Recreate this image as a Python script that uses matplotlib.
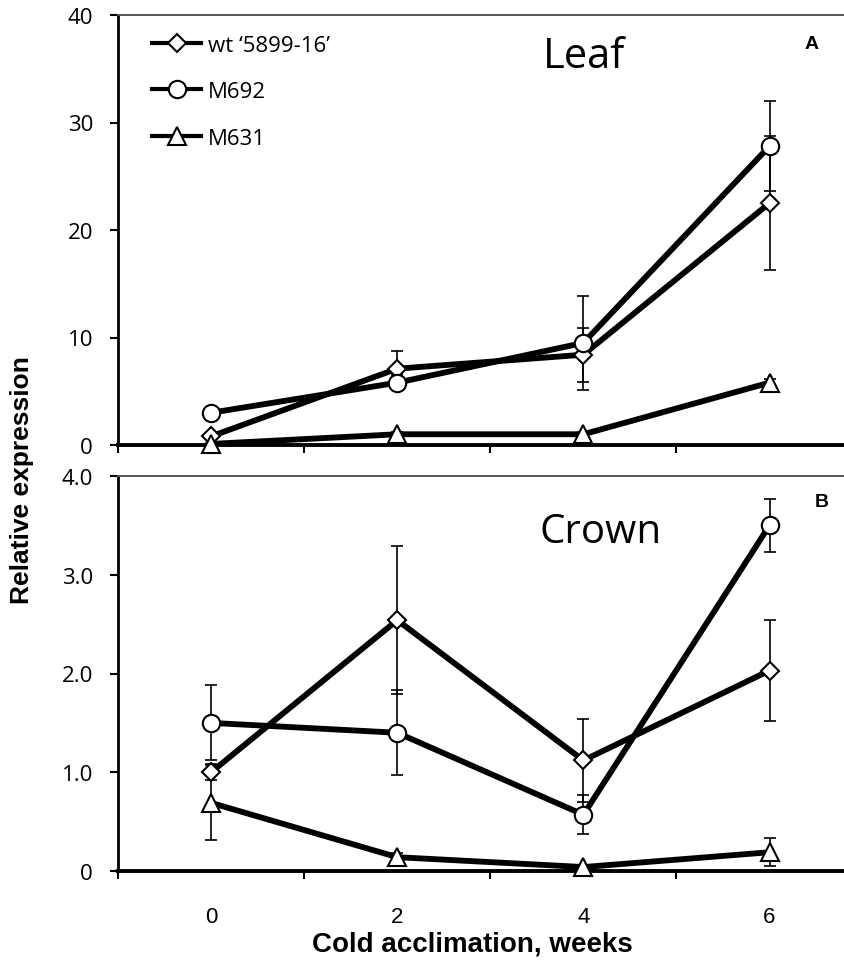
import matplotlib
matplotlib.use("Agg")
import matplotlib.pyplot as plt
from matplotlib import font_manager

# Daten
weeks = ["0", "2", "4", "6"]
series = ["wt \u20185899-16\u2019", "M692", "M631"]
markers = ["D", "o", "^"]
marker_sizes = [9.5, 12.5, 12.5]

leaf_wt = [0.8, 7.1, 8.4, 22.5]
leaf_wt_err = [0.2, 1.6, 2.5, 6.2]
leaf_m692 = [3.0, 5.8, 9.5, 27.8]
leaf_m692_err = [0.2, 0.7, 4.4, 4.2]
leaf_m631 = [0.1, 1.0, 1.0, 5.8]
leaf_m631_err = [0.1, 0.2, 0.2, 0.3]

crown_wt = [1.00, 2.54, 1.12, 2.03]
crown_wt_err = [0.08, 0.75, 0.42, 0.51]
crown_m692 = [1.50, 1.40, 0.57, 3.50]
crown_m692_err = [0.38, 0.43, 0.20, 0.27]
crown_m631 = [0.69, 0.14, 0.04, 0.19]
crown_m631_err = [0.38, 0.04, 0.02, 0.14]

leaf_ticks = [0, 10, 20, 30, 40]
leaf_ticklabels = ["0", "10", "20", "30", "40"]
crown_ticks = [0, 1, 2, 3, 4]
crown_ticklabels = ["0", "1.0", "2.0", "3.0", "4.0"]


def pick_font(names, default="DejaVu Sans"):
    available = {f.name for f in font_manager.fontManager.ttflist}
    for n in names:
        if n in available:
            return n
    return default


SANS = pick_font(["Open Sans", "Noto Sans", "DejaVu Sans"])
ARIAL = pick_font(["Liberation Sans", "DejaVu Sans"])
NARROW = pick_font(["Liberation Sans Narrow", "Liberation Sans"])

W, H = 844, 970
fig = plt.figure(figsize=(W / 100, H / 100), dpi=100)


def px_axes(left, top, right, bottom):
    return fig.add_axes([left / W, 1 - bottom / H, (right - left) / W, (bottom - top) / H])


ax_leaf = px_axes(118, 16, 844, 446)
ax_crown = px_axes(118, 477, 844, 872)


def draw_panel(ax, values, errors, ylim, ticks, ticklabels):
    x = list(range(len(weeks)))
    # Fehlerbalken hinter die Linien
    for y, e in zip(values, errors):
        ax.errorbar(x, y, yerr=e, fmt="none", ecolor="black", elinewidth=1.2,
                    capsize=4.5, capthick=1.2, zorder=2, clip_on=False)
    handles = []
    for y, m, ms, name in zip(values, markers, marker_sizes, series):
        h, = ax.plot(x, y, color="black", lw=4.2, marker=m, ms=ms,
                     mfc="white", mec="black", mew=1.5, zorder=3,
                     clip_on=False, label=name)
        handles.append(h)

    ax.set_xlim(-0.5, 3.4)
    ax.set_ylim(*ylim)

    # Kategorie-Achse: Striche zwischen den Kategorien, Labels in der Mitte
    ax.set_xticks([-0.5, 0.5, 1.5, 2.5])
    ax.set_xticklabels([])
    ax.set_xticks(x, minor=True)
    ax.set_xticklabels(weeks, minor=True, fontsize=16, family=NARROW)
    ax.tick_params(axis="x", which="major", direction="out", length=6, width=1.5)
    ax.tick_params(axis="x", which="minor", length=0, pad=25)

    ax.set_yticks(ticks)
    ax.set_yticklabels(ticklabels, fontsize=16, family=SANS)
    ax.tick_params(axis="y", direction="out", length=6, width=1.5, pad=12)

    ax.spines["right"].set_visible(False)
    ax.spines["top"].set_color("#555555")
    ax.spines["top"].set_linewidth(1.4)
    ax.spines["left"].set_linewidth(2.0)
    ax.spines["bottom"].set_linewidth(2.8)
    return handles


handles = draw_panel(ax_leaf, [leaf_wt, leaf_m692, leaf_m631],
                     [leaf_wt_err, leaf_m692_err, leaf_m631_err],
                     (0, 40), leaf_ticks, leaf_ticklabels)
ax_leaf.tick_params(axis="x", which="minor", labelbottom=False)

draw_panel(ax_crown, [crown_wt, crown_m692, crown_m631],
           [crown_wt_err, crown_m692_err, crown_m631_err],
           (0, 4.0), crown_ticks, crown_ticklabels)

leg = ax_leaf.legend(handles=handles, loc="upper left", bbox_to_anchor=(0.032, 0.98),
                     frameon=False, borderpad=0, handlelength=2.2, handletextpad=0.3,
                     labelspacing=1.15, numpoints=1, prop={"family": SANS, "size": 16})
for line in leg.get_lines():
    line.set_linewidth(3.0)

ax_leaf.text(0.642, 0.905, "Leaf", transform=ax_leaf.transAxes, fontsize=30,
             family=SANS, ha="center", va="center")
ax_leaf.text(0.955, 0.933, "A", transform=ax_leaf.transAxes, fontsize=14,
             family=ARIAL, weight="bold", ha="center", va="center")
ax_crown.text(0.664, 0.86, "Crown", transform=ax_crown.transAxes, fontsize=29,
              family=SANS, ha="center", va="center")
ax_crown.text(0.97, 0.935, "B", transform=ax_crown.transAxes, fontsize=14,
              family=ARIAL, weight="bold", ha="center", va="center")

fig.text(22 / W, 1 - 480 / H, "Relative expression", rotation=90, fontsize=19,
         family=ARIAL, weight="bold", ha="center", va="center")
fig.text(472 / W, 1 - 945 / H, "Cold acclimation, weeks", fontsize=20,
         family=NARROW, weight="bold", ha="center", va="center")

fig.savefig("out.png", dpi=100)
